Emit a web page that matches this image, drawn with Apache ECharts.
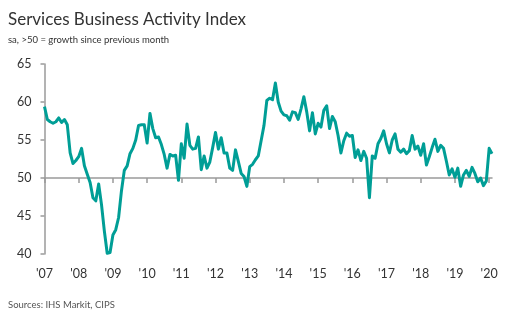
<!DOCTYPE html>
<html>
<head>
<meta charset="utf-8">
<script src="https://cdn.jsdelivr.net/npm/echarts@6/dist/echarts.min.js"></script>
<style>
html,body{margin:0;padding:0;background:#fff;}
#chart{width:513px;height:321px;}
</style>
</head>
<body>
<div id="chart"></div>
<script>
// Monthly index values, Jan 2007 - Feb 2020
const pmi2007 = [59.4, 57.7, 57.4, 57.2, 57.4, 57.9, 57.3, 57.7, 57.0, 53.3, 51.9, 52.3];
const pmi2008 = [52.8, 53.9, 51.6, 50.5, 49.4, 47.4, 47.0, 49.2, 46.5, 43.0, 40.1, 40.2];
const pmi2009 = [42.5, 43.2, 44.8, 48.3, 51.0, 51.6, 53.2, 53.9, 55.0, 56.9, 57.0, 57.0];
const pmi2010 = [54.6, 58.5, 56.5, 55.3, 55.4, 54.4, 53.1, 51.3, 53.1, 52.9, 53.0, 49.7];
const pmi2011 = [54.5, 52.6, 57.1, 54.3, 53.8, 53.9, 55.4, 51.1, 52.9, 51.3, 52.1, 54.0];
const pmi2012 = [56.0, 53.8, 55.3, 53.3, 53.3, 51.3, 51.0, 53.7, 52.2, 50.6, 50.2, 48.9];
const pmi2013 = [51.5, 51.8, 52.4, 52.9, 54.9, 56.9, 60.2, 60.5, 60.3, 62.5, 60.0, 58.8];
const pmi2014 = [58.3, 58.2, 57.6, 58.7, 58.6, 57.7, 59.1, 60.7, 58.7, 56.2, 58.6, 55.8];
const pmi2015 = [57.2, 56.7, 58.9, 59.5, 56.5, 58.1, 57.4, 55.6, 53.3, 54.9, 55.9, 55.5];
const pmi2016 = [55.6, 52.7, 53.7, 52.3, 53.5, 52.6, 47.4, 52.9, 52.6, 54.5, 55.2, 56.2];
const pmi2017 = [54.5, 53.3, 55.0, 55.8, 53.8, 53.4, 53.8, 53.2, 53.6, 55.6, 53.8, 54.2];
const pmi2018 = [53.0, 54.5, 51.7, 52.8, 54.0, 55.1, 53.5, 54.3, 53.9, 52.2, 50.4, 51.2];
const pmi2019 = [50.1, 51.3, 48.9, 50.4, 51.0, 50.2, 51.4, 50.6, 49.5, 50.0, 49.0, 49.6];
const pmi2020 = [53.9, 53.2];

const years = [2007, 2008, 2009, 2010, 2011, 2012, 2013, 2014, 2015, 2016, 2017, 2018, 2019, 2020];
const yearLabels = ["'07", "'08", "'09", "'10", "'11", "'12", "'13", "'14", "'15", "'16", "'17", "'18", "'19", "'20"];
const yTicks = [40, 45, 50, 55, 60, 65];

const yearly = [pmi2007, pmi2008, pmi2009, pmi2010, pmi2011, pmi2012, pmi2013, pmi2014, pmi2015, pmi2016, pmi2017, pmi2018, pmi2019, pmi2020];
const months = [];
const values = [];
yearly.forEach((arr, yi) => {
  arr.forEach((v, mi) => {
    months.push(years[yi] + '-' + String(mi + 1).padStart(2, '0'));
    values.push(v);
  });
});

const FONT = 'Lato, Liberation Sans, Arial, sans-serif';
const AX = '#9a9a9a';
const isJan = (idx) => idx % 12 === 0;

const chart = echarts.init(document.getElementById('chart'), null, {renderer: 'canvas'});
chart.setOption({
  animation: false,
  backgroundColor: '#fff',
  title: [
    {text: 'Services Business Activity Index', left: 3, top: 6, padding: 5,
     textStyle: {fontFamily: FONT, fontSize: 17, fontWeight: 'normal', color: '#333'}},
    {text: 'sa, >50 = growth since previous month', left: 3, top: 30, padding: 5,
     textStyle: {fontFamily: FONT, fontSize: 9.5, fontWeight: 'normal', color: '#333'}},
    {text: 'Sources: IHS Markit, CIPS', left: 3, top: 295, padding: 5,
     textStyle: {fontFamily: FONT, fontSize: 9.5, fontWeight: 'normal', color: '#555'}}
  ],
  grid: {left: 44.5, top: 64, height: 190, right: 21, containLabel: false},
  xAxis: [
    {
      type: 'category', data: months, boundaryGap: false,
      axisLine: {show: false}, axisTick: {show: false}, splitLine: {show: false},
      axisLabel: {
        interval: (i) => isJan(i), margin: 13,
        formatter: (val, i) => yearLabels[years.indexOf(+val.slice(0, 4))],
        fontFamily: FONT, fontSize: 12.5, color: '#333'
      }
    },
    {
      type: 'category', data: months, boundaryGap: false, position: 'bottom', offset: -76,
      axisLine: {show: true, lineStyle: {color: AX, width: 1.5}},
      axisTick: {show: true, interval: (i) => isJan(i), length: 5, lineStyle: {color: AX, width: 1.5}},
      axisLabel: {show: false}, splitLine: {show: false}
    }
  ],
  yAxis: {
    type: 'value', min: yTicks[0], max: yTicks[yTicks.length - 1], interval: 5,
    axisLine: {show: true, lineStyle: {color: AX, width: 1.5}},
    axisTick: {show: true, length: 4, lineStyle: {color: AX, width: 1.5}},
    splitLine: {show: false},
    axisLabel: {margin: 13, fontFamily: FONT, fontSize: 12.5, color: '#333'}
  },
  series: [{
    type: 'line', data: values, xAxisIndex: 0, symbol: 'none', smooth: false,
    lineStyle: {color: '#009e96', width: 3, join: 'round'},
    z: 5
  }]
});
</script>
</body>
</html>
